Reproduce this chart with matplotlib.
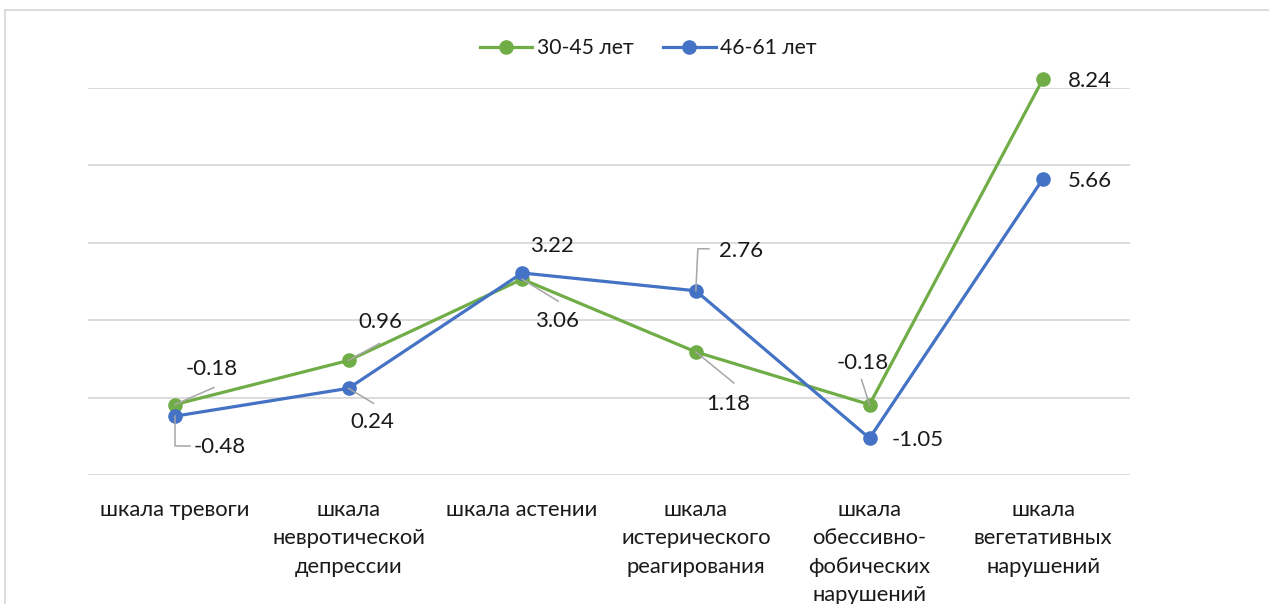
import matplotlib
matplotlib.use("Agg")
import matplotlib.pyplot as plt
from matplotlib.lines import Line2D

plt.rcParams['font.family'] = ['Lato', 'Open Sans', 'DejaVu Sans']

categories = [
    "шкала тревоги",
    "шкала\nневротической\nдепрессии",
    "шкала астении",
    "шкала\nистерического\nреагирования",
    "шкала\nобессивно-\nфобических\nнарушений",
    "шкала\nвегетативных\nнарушений",
]
series_names = ["30-45 лет", "46-61 лет"]
values_30_45 = [-0.18, 0.96, 3.06, 1.18, -0.18, 8.24]
values_46_61 = [-0.48, 0.24, 3.22, 2.76, -1.05, 5.66]
y_ticks = [-2, 0, 2, 4, 6, 8]

GREEN = "#70AD47"
BLUE = "#4472C4"
TEXT = "#1a1a1a"
LEADER = "#a6a6a6"
FS = 16

W, H = 1269, 604
fig = plt.figure(figsize=(W / 100, H / 100), dpi=100)
ax = fig.add_axes([88 / W, 1 - 475 / H, (1130 - 88) / W, (475 - 88) / H])

x = [i + 0.5 for i in range(len(categories))]
ax.set_xlim(0, len(categories))
ax.set_ylim(y_ticks[0], y_ticks[-1])

for yv in y_ticks:
    ax.axhline(yv, color="#d9d9d9", lw=1.3, zorder=0)

ax.plot(x, values_30_45, color=GREEN, lw=2.3, marker="o", ms=9.5,
        clip_on=False, zorder=3, label=series_names[0])
ax.plot(x, values_46_61, color=BLUE, lw=2.3, marker="o", ms=9.5,
        clip_on=False, zorder=4, label=series_names[1])

for s in ax.spines.values():
    s.set_visible(False)
ax.set_yticks([])
ax.set_xticks(x)
ax.set_xticklabels(categories, fontsize=15.8, color=TEXT, linespacing=1.52)
ax.tick_params(axis="x", length=0, pad=18)

# data labels: (text offset px, leader path offsets px or None)
label_style_30 = [
    ((37, 36), [(0, 0), (39, 17)]),
    ((32, 38), [(0, 0), (31, 17)]),
    ((35, -42), [(0, 0), (36, -22)]),
    ((32, -52), [(0, 0), (38, -31)]),
    ((-7, 42), [(0, 0), (-8, 25)]),
    ((47, -2), None),
]
label_style_46 = [
    ((45, -31), [(0, 0), (0, -30), (15, -30)]),
    ((24, -34), [(0, 0), (25, -15)]),
    ((30, 27), None),
    ((45, 40), [(0, 0), (2, 42), (13, 42)]),
    ((48, -2), None),
    ((47, -2), None),
]

trans = ax.transData
for vals, styles in ((values_30_45, label_style_30), (values_46_61, label_style_46)):
    for xi, v, (toff, path) in zip(x, vals, styles):
        px, py = trans.transform((xi, v))
        if path:
            xs = [px + dx for dx, dy in path]
            ys = [py + dy for dx, dy in path]
            fig.add_artist(Line2D([a / W for a in xs], [b / H for b in ys],
                                  color=LEADER, lw=1.1, zorder=2))
        ax.annotate(f"{v:.2f}", xy=(xi, v), xytext=toff,
                    textcoords="offset pixels", ha="center", va="center",
                    fontsize=FS, color=TEXT, zorder=5, annotation_clip=False)

leg = fig.legend(loc="center", bbox_to_anchor=(648 / W, 1 - 48 / H), ncol=2,
                 frameon=False, fontsize=15.2, handlelength=2.5,
                 handletextpad=0.2, columnspacing=1.4)
for t in leg.get_texts():
    t.set_color(TEXT)

# chart border
fig.add_artist(Line2D([5 / W, 1.0], [1 - 10 / H, 1 - 10 / H], color="#d9d9d9", lw=1.3))
fig.add_artist(Line2D([5 / W, 5 / W], [0.0, 1 - 10 / H], color="#d9d9d9", lw=1.3))

fig.savefig("out.png", dpi=100, facecolor="white")
